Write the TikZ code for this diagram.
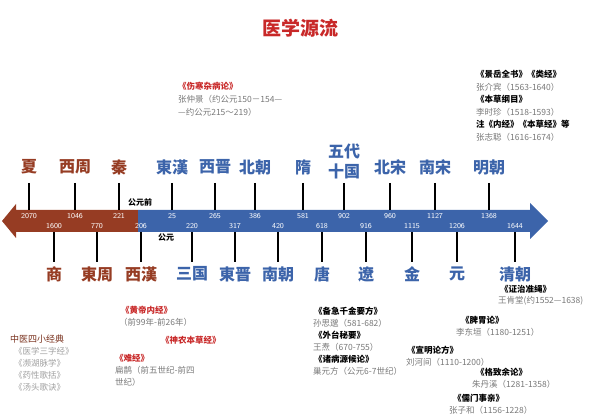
\documentclass[tikz,border=0pt]{standalone}
\usepackage{fontspec}
\newfontfamily\cjk{Noto Sans CJK SC}
\usetikzlibrary{calc}
\definecolor{br}{RGB}{150,60,35}
\definecolor{bl}{RGB}{60,100,170}
\definecolor{tred}{RGB}{200,40,40}
\definecolor{gr}{RGB}{120,120,120}
\tikzset{
 per/.style={font=\cjk\fontsize{16}{16}\selectfont\bfseries, inner sep=0pt},
 num/.style={font=\sffamily\fontsize{7.5}{8}\selectfont, text=white, inner sep=0pt},
 bk/.style={font=\cjk\fontsize{8.5}{9}\selectfont\bfseries, inner sep=0pt, anchor=west},
 au/.style={font=\cjk\fontsize{8.5}{9}\selectfont, text=gr, inner sep=0pt, anchor=west},
 tk/.style={line width=1.3pt}
}
\begin{document}
\begin{tikzpicture}[x=1pt,y=-1pt]
\useasboundingbox (0,0) rectangle (600,419);
\node[font=\cjk\fontsize{19}{19}\selectfont\bfseries, text=tred] (title) at (300,28) {医学源流};
% arrow
\fill[br] (2,221) -- (16,204) -- (16,210) -- (138,210) -- (138,232) -- (16,232) -- (16,238) -- cycle;
\fill[bl] (138,210) -- (530,210) -- (530,203) -- (548,221) -- (530,239) -- (530,232) -- (138,232) -- cycle;
\node[font=\cjk\fontsize{8}{8}\selectfont\bfseries, inner sep=0pt] (bc) at (140,202) {公元前};
\node[font=\cjk\fontsize{8}{8}\selectfont\bfseries, inner sep=0pt] (ac) at (166,238) {公元};
% top
\foreach \x/\n/\c/\lab in {29/2070/br/夏,75/1046/br/西周,119/221/br/秦,172/25/bl/東漢,215/265/bl/西晋,255/386/bl/北朝,303/581/bl/隋,390/960/bl/北宋,435/1127/bl/南宋,489/1368/bl/明朝}{
  \draw[tk] (\x,183) -- (\x,210);
  \node[num] at (\x,216) {\n};
  \node[per, text=\c] at (\x,167) {\lab};
}
\draw[tk] (344,183) -- (344,210);
\node[num] at (344,216) {902};
\node[per, text=bl] (wd1) at (344,151) {五代};
\node[per, text=bl] (wd2) at (344,171) {十国};
% bottom
\foreach \x/\n/\c/\lab in {54/1600/br/商,97/770/br/東周,141/206/br/西漢,192/220/bl/三国,235/317/bl/東晋,278/420/bl/南朝,322/618/bl/唐,366/916/bl/遼,412/1115/bl/金,457/1206/bl/元,515/1644/bl/清朝}{
  \draw[tk] (\x,232) -- (\x,262);
  \node[num] at (\x,226) {\n};
  \node[per, text=\c] at (\x,274) {\lab};
}
% top texts
\node[bk, text=tred] (s1) at (178,86) {《伤寒杂病论》};
\node[au] (s2) at (178,99) {张仲景（约公元150－154—};
\node[au] (s3) at (178,112) {—约公元215～219）};
\node[bk] (j1) at (476,74) {《景岳全书》《类经》};
\node[au] (j2) at (476,87) {张介宾（1563-1640）};
\node[bk] (j3) at (476,99) {《本草纲目》};
\node[au] (j4) at (476,112) {李时珍（1518-1593）};
\node[bk] (j5) at (476,124) {注《内经》《本草经》等};
\node[au] (j6) at (476,137) {张志聪（1616-1674）};
% bottom left
\node[bk, text=br!80!black, font=\cjk\fontsize{9}{9}\selectfont] (c0) at (10,339) {中医四小经典};
\node[au, text=gr!70] (c1) at (14,351) {《医学三字经》};
\node[au, text=gr!70] (c2) at (14,363) {《濒湖脉学》};
\node[au, text=gr!70] (c3) at (14,375) {《药性歌括》};
\node[au, text=gr!70] (c4) at (14,387) {《汤头歌诀》};
\node[bk, text=tred] (h1) at (121,310) {《黄帝内经》};
\node[au] (h2) at (119,322) {（前99年-前26年）};
\node[bk, text=tred] (sn) at (161,340) {《神农本草经》};
\node[bk, text=tred] (n1) at (115,358) {《难经》};
\node[au] (n2) at (115,370) {扁鹊（前五世纪-前四};
\node[au] (n3) at (115,382) {世纪）};
% bottom right
\node[bk] (z1) at (500,289) {《证治准绳》};
\node[au] (z2) at (498,301) {王肯堂(约1552—1638)};
\node[bk] (p1) at (461,320) {《脾胃论》};
\node[au] (p2) at (456,332) {李东垣（1180-1251）};
\node[bk] (b1) at (314,311) {《备急千金要方》};
\node[au] (b2) at (313,323) {孙思邈（581-682）};
\node[bk] (b3) at (314,335) {《外台秘要》};
\node[au] (b4) at (313,347) {王焘（670-755）};
\node[bk] (b5) at (314,359) {《诸病源候论》};
\node[au] (b6) at (313,371) {巢元方（公元6-7世纪）};
\node[bk] (x1) at (407,350) {《宣明论方》};
\node[au] (x2) at (406,362) {刘河间（1110-1200）};
\node[bk] (g1) at (476,372) {《格致余论》};
\node[au] (g2) at (472,384) {朱丹溪（1281-1358）};
\node[bk] (r1) at (453,398) {《儒门事亲》};
\node[au] (r2) at (449,410) {张子和（1156-1228）};
\end{tikzpicture}
\end{document}
